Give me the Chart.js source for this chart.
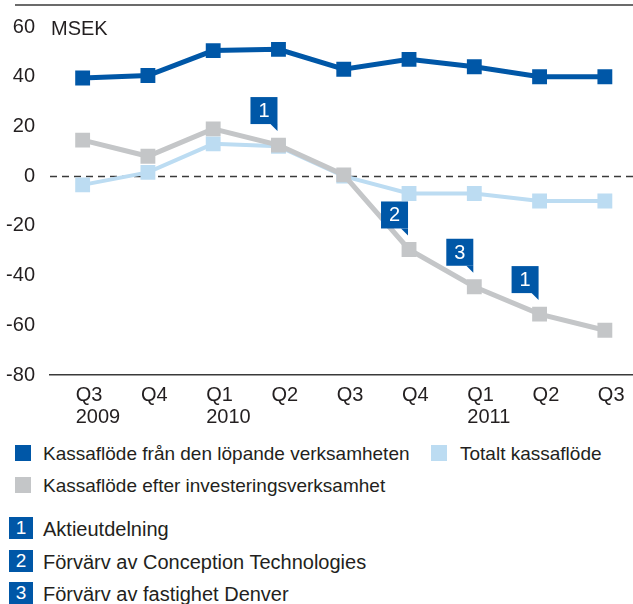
<!DOCTYPE html>
<html lang="sv">
<head>
<meta charset="utf-8">
<title>Kassaflöde</title>
<script src="https://cdn.jsdelivr.net/npm/chart.js@4.4.1/dist/chart.umd.min.js"></script>
<style>
  html, body { margin: 0; padding: 0; background: #fff; }
  body { width: 633px; height: 604px; position: relative; overflow: hidden;
         font-family: 'Liberation Sans', Arial, sans-serif; color: #231f20; }
  #chartWrap { position: absolute; left: 0; top: 0; width: 648px; height: 432px; }
  .sw { position: absolute; width: 16px; height: 16px; }
  .txt { position: absolute; height: 22px; line-height: 22px; font-size: 19px; white-space: nowrap; }
  .txt.big { font-size: 20px; }
  .num { position: absolute; width: 24px; height: 22px; line-height: 22px; background: #0057a7;
         color: #fff; font-size: 19px; text-align: center; }
</style>
</head>
<body>
<div id="chartWrap"><canvas id="chartCash"></canvas></div>

<!-- Förklaring -->
<div class="sw" style="left:15px; top:445px; background:#0057a7;"></div>
<div class="txt" style="left:43px; top:443px;">Kassaflöde från den löpande verksamheten</div>
<div class="sw" style="left:431px; top:445px; background:#bcdcf2;"></div>
<div class="txt" style="left:460px; top:443px;">Totalt kassaflöde</div>
<div class="sw" style="left:15px; top:477px; background:#c4c6c8;"></div>
<div class="txt" style="left:43px; top:475px;">Kassaflöde efter investeringsverksamhet</div>

<div class="num" style="left:9px; top:517px;">1</div>
<div class="txt big" style="left:43px; top:518px;">Aktieutdelning</div>
<div class="num" style="left:9px; top:550px;">2</div>
<div class="txt big" style="left:43px; top:551px;">Förvärv av Conception Technologies</div>
<div class="num" style="left:9px; top:582px;">3</div>
<div class="txt big" style="left:43px; top:583px;">Förvärv av fastighet Denver</div>

<script>
// Data (MSEK per kvartal)
const quarters = ['Q3', 'Q4', 'Q1', 'Q2', 'Q3', 'Q4', 'Q1', 'Q2', 'Q3'];
const years    = ['2009', '', '2010', '', '', '', '2011', '', ''];

const operatingCash  = [39.5, 40.5, 50.5, 51, 43, 47, 44, 40, 40];
const totalCash      = [-3.5, 1.5, 13, 12, 0, -7, -7, -10, -10];
const afterInvesting = [14.5, 8, 19, 12.5, 0.5, -29.5, -44.5, -55.5, -62];

const yTicks = [-80, -60, -40, -20, 0, 20, 40, 60];

// Markeringar på linjen "efter investeringsverksamhet"
const noteNumbers = ['1', '2', '3', '1'];
const noteIndex   = [3, 5, 6, 7];

// Färger
const colors = {
    darkBlue: '#0057a7',
    lightBlue: '#bcdcf2',
    gray: '#c4c6c8',
    text: '#231f20',
    rule: '#3a3a3a'
};

const fontFamily = "'Liberation Sans', Arial, sans-serif";
Chart.defaults.font.family = fontFamily;

const labels = quarters.map((q, i) => years[i] ? [q, years[i]] : q);

// Linjer, MSEK-text och nummerrutor
const extras = {
    id: 'extras',
    beforeDraw(chart) {
        const ctx = chart.ctx;
        ctx.save();
        ctx.strokeStyle = colors.rule;
        ctx.lineWidth = 1.5;
        ctx.beginPath();
        ctx.moveTo(15, 5);
        ctx.lineTo(chart.width, 5);
        ctx.stroke();
        ctx.fillStyle = colors.text;
        ctx.font = '20px ' + fontFamily;
        ctx.textBaseline = 'middle';
        ctx.fillText('MSEK', chart.chartArea.left + 1, 29);
        ctx.restore();
    },
    beforeDatasetsDraw(chart) {
        const { ctx, chartArea } = chart;
        const y0 = Math.round(chart.scales.y.getPixelForValue(0)) + 0.5;
        ctx.save();
        ctx.strokeStyle = colors.rule;
        ctx.lineWidth = 1.5;
        ctx.setLineDash([7, 5]);
        ctx.beginPath();
        ctx.moveTo(chartArea.left, y0);
        ctx.lineTo(chartArea.right, y0);
        ctx.stroke();
        ctx.restore();
    },
    afterDatasetsDraw(chart) {
        const ctx = chart.ctx;
        const meta = chart.getDatasetMeta(2);
        ctx.save();
        noteIndex.forEach((idx, i) => {
            const pt = meta.data[idx];
            const right = pt.x - 1;
            const bottom = pt.y - 21;
            const size = 27;
            ctx.fillStyle = colors.darkBlue;
            ctx.fillRect(right - size, bottom - size, size, size);
            ctx.beginPath();
            ctx.moveTo(right - 7, bottom);
            ctx.lineTo(right, bottom);
            ctx.lineTo(right, bottom + 7);
            ctx.closePath();
            ctx.fill();
            ctx.fillStyle = '#fff';
            ctx.font = '20px ' + fontFamily;
            ctx.textAlign = 'center';
            ctx.textBaseline = 'middle';
            ctx.fillText(noteNumbers[i], right - size / 2, bottom - size / 2 + 1);
        });
        ctx.restore();
    }
};

function lineDataset(label, data, color, width, order) {
    return {
        label: label,
        data: data,
        borderColor: color,
        backgroundColor: color,
        borderWidth: width,
        tension: 0,
        pointStyle: 'rect',
        pointRadius: 10.5,
        pointHoverRadius: 10.5,
        pointBorderWidth: 0,
        pointBackgroundColor: color,
        order: order
    };
}

function createChartCash() {
    const ctx = document.getElementById('chartCash');
    if (!ctx) return;

    new Chart(ctx, {
        type: 'line',
        data: {
            labels: labels,
            datasets: [
                lineDataset('Kassaflöde från den löpande verksamheten', operatingCash, colors.darkBlue, 5, 0),
                lineDataset('Totalt kassaflöde', totalCash, colors.lightBlue, 4, 2),
                lineDataset('Kassaflöde efter investeringsverksamhet', afterInvesting, colors.gray, 5, 1)
            ]
        },
        options: {
            responsive: true,
            maintainAspectRatio: false,
            animation: false,
            layout: { padding: { top: 24, right: 0, bottom: 0, left: 0 } },
            plugins: {
                legend: { display: false },
                tooltip: { enabled: false }
            },
            scales: {
                x: {
                    offset: true,
                    grid: { display: false, drawTicks: false },
                    border: { display: true, color: colors.rule, width: 1.5 },
                    ticks: {
                        align: 'start',
                        labelOffset: -7,
                        padding: 9,
                        color: colors.text,
                        font: { size: 20, lineHeight: 1.1 },
                        maxRotation: 0,
                        autoSkip: false
                    },
                    afterFit(scale) {
                        scale.height = 57;
                        scale.paddingLeft = 0;
                        scale.paddingRight = 0;
                    }
                },
                y: {
                    min: yTicks[0],
                    max: yTicks[yTicks.length - 1],
                    grid: { display: false, drawTicks: false },
                    border: { display: false },
                    afterBuildTicks(scale) { scale.ticks = yTicks.map(v => ({ value: v })); },
                    ticks: {
                        padding: 15,
                        color: colors.text,
                        font: { size: 20 }
                    },
                    afterFit(scale) { scale.width = 50; }
                }
            }
        },
        plugins: [extras]
    });
}

document.addEventListener('DOMContentLoaded', function() {
    createChartCash();
});
</script>
</body>
</html>
